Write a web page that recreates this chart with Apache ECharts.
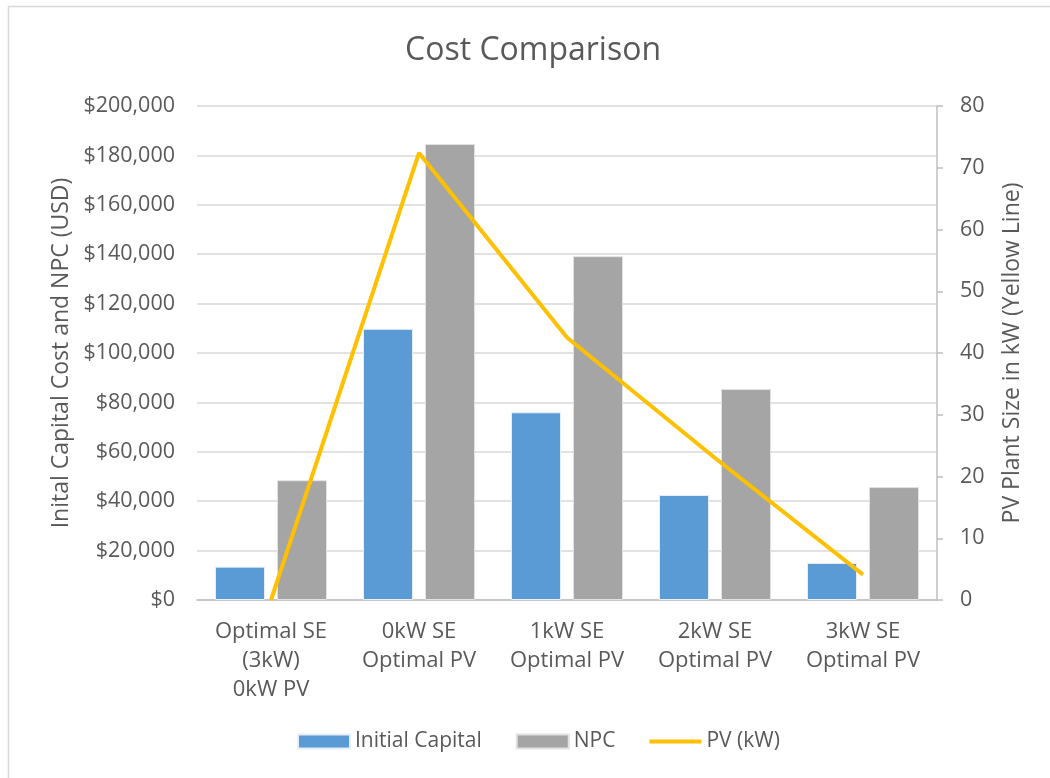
<!DOCTYPE html>
<html>
<head>
<meta charset="utf-8">
<script src="https://cdn.jsdelivr.net/npm/echarts@6/dist/echarts.min.js"></script>
<style>
  html, body { margin: 0; padding: 0; background: #ffffff; }
  #chart { width: 1050px; height: 778px; }
</style>
</head>
<body>
<div id="chart"></div>
<script>
// Scenario labels along the category axis
const categories = [
  'Optimal SE\n(3kW)\n0kW PV',
  '0kW SE\nOptimal PV',
  '1kW SE\nOptimal PV',
  '2kW SE\nOptimal PV',
  '3kW SE\nOptimal PV'
];
// Costs in USD
const initialCapital = [13500, 109800, 76000, 42500, 15000];
const npc = [48500, 184600, 139200, 85400, 45700];
// PV plant size in kW (right axis)
const pvSize = [0, 72.4, 42.5, 23, 4.1];

const FONT = '"Open Sans", "Noto Sans", sans-serif';
const TEXT = '#595959';

const chart = echarts.init(document.getElementById('chart'), null, { renderer: 'canvas' });

function money(v) {
  return '$' + v.toLocaleString('en-US');
}

chart.setOption({
  backgroundColor: '#ffffff',
  animation: false,
  textStyle: { fontFamily: FONT, color: TEXT },
  title: {
    text: 'Cost Comparison',
    left: 400,
    top: 30,
    textStyle: { fontFamily: FONT, fontSize: 32, fontWeight: 'normal', color: TEXT }
  },
  graphic: [{
    type: 'rect',
    shape: { x: 8.5, y: 6.5, width: 1100, height: 900 },
    style: { fill: 'none', stroke: '#d9d9d9', lineWidth: 1.5 },
    silent: true,
    z: -1
  }],
  legend: {
    bottom: 21,
    left: 292,
    itemWidth: 52,
    itemHeight: 14,
    itemGap: 34,
    textStyle: { fontFamily: FONT, fontSize: 21, color: TEXT },
    data: [
      { name: 'Initial Capital', icon: 'rect' },
      { name: 'NPC', icon: 'rect' },
      // thin bar centred in a 52x14 box for the line series
      { name: 'PV (kW)', icon: 'path://M0,0 M0,5 L52,5 L52,9 L0,9 Z M52,14' }
    ]
  },
  grid: { left: 197, right: 113, top: 106, bottom: 178 },
  xAxis: {
    type: 'category',
    data: categories,
    axisLine: { lineStyle: { color: '#bfbfbf', width: 1.5 } },
    axisTick: { show: false },
    axisLabel: {
      fontFamily: FONT, fontSize: 22, color: TEXT,
      lineHeight: 29, margin: 17, interval: 0
    }
  },
  yAxis: [
    {
      type: 'value',
      min: 0, max: 200000, interval: 20000,
      name: 'Inital Capital Cost and NPC (USD)',
      nameLocation: 'middle',
      nameGap: 124,
      nameRotate: 90,
      nameTextStyle: { fontFamily: FONT, fontSize: 23, color: TEXT },
      axisLine: { show: false },
      axisTick: { show: false },
      axisLabel: { fontFamily: FONT, fontSize: 21.5, color: TEXT, margin: 22, formatter: money },
      splitLine: { lineStyle: { color: '#d9d9d9', width: 1.5 } }
    },
    {
      type: 'value',
      min: 0, max: 80, interval: 10,
      name: 'PV Plant Size in kW (Yellow Line)',
      nameLocation: 'middle',
      nameGap: 64,
      nameRotate: 90,
      nameTextStyle: { fontFamily: FONT, fontSize: 23, color: TEXT },
      axisLine: { show: true, lineStyle: { color: '#bfbfbf', width: 1.5 } },
      axisTick: { show: true, length: 6, inside: false, lineStyle: { color: '#bfbfbf', width: 1.5 } },
      axisLabel: { fontFamily: FONT, fontSize: 21.5, color: TEXT, margin: 23 },
      splitLine: { show: false }
    }
  ],
  series: [
    {
      name: 'Initial Capital',
      type: 'bar',
      yAxisIndex: 0,
      data: initialCapital,
      barWidth: 50,
      barGap: '24%',
      itemStyle: { color: '#5b9bd5', borderColor: '#e6eef8', borderWidth: 1 }
    },
    {
      name: 'NPC',
      type: 'bar',
      yAxisIndex: 0,
      data: npc,
      barWidth: 50,
      itemStyle: { color: '#a5a5a5', borderColor: '#e2e2e2', borderWidth: 1 }
    },
    {
      name: 'PV (kW)',
      type: 'line',
      yAxisIndex: 1,
      data: pvSize,
      symbol: 'none',
      lineStyle: { color: '#ffc000', width: 4 },
      itemStyle: { color: '#ffc000' },
      z: 5
    }
  ]
});
</script>
</body>
</html>
